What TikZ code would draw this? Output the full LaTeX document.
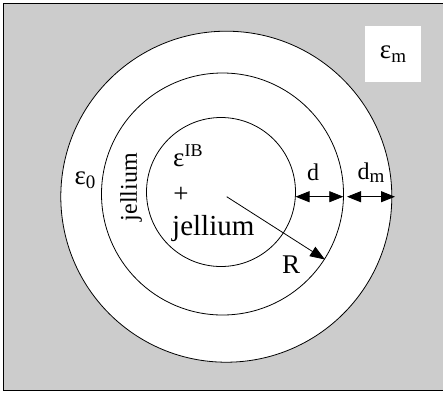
\documentclass[tikz,border=0pt]{standalone}
\usepackage{fontspec}
\setmainfont{Liberation Serif}
\usepackage{xcolor}
\usetikzlibrary{arrows.meta}
\definecolor{bggray}{HTML}{CCCCCC}
\newcommand{\lowr}[1]{\raisebox{-0.3ex}{\fontsize{19}{19}\selectfont #1}}
\newcommand{\highr}[1]{\raisebox{0.75ex}{\fontsize{18}{18}\selectfont #1}}
\tikzset{
  lbl/.style={inner sep=0pt,font=\fontsize{27}{30}\selectfont},
  slbl/.style={inner sep=0pt,font=\fontsize{24}{26}\selectfont},
  ring/.style={draw,line width=0.8pt},
  arr/.style={-{Triangle[length=15pt,width=11pt]},line width=0.8pt},
  darr/.style={{Triangle[length=14pt,width=11pt]}-{Triangle[length=14pt,width=11pt]},line width=0.8pt},
}

\begin{document}
\begin{tikzpicture}[x=1pt,y=-1pt]
\useasboundingbox (0,0) rectangle (443,394);
% surrounding medium
\draw[fill=bggray,line width=1pt] (3.5,3) rectangle (445,390.5);
% shells
\draw[ring,fill=white] (226.3,196.7) circle (165.5);
\draw[ring] (222.5,194) circle (121);
\draw[ring] (221,192) circle (74.5);
% arrow end points
\coordinate (ctr) at (226.7,196.7);
\coordinate (rEnd) at (325,259.5);
\coordinate (inR) at (295.5,196.7);
\coordinate (midR) at (343.3,196.7);
\coordinate (midR2) at (347,196.7);
\coordinate (outR) at (395,196.7);
% labels
\node[lbl,fill=white,minimum width=56pt,minimum height=56pt] (epsm) at (393,54) {ε\lowr{m}};
\node[lbl] (eps0) at (85,180) {ε\lowr{0}};
\node[slbl,rotate=90] (jelOut) at (131,187) {jellium};
\node[lbl,anchor=base west] (epsIB) at (173,166) {ε\highr{IB}};
\node[lbl] (plus) at (181,195) {+};
\node[lbl,font=\fontsize{29}{30}\selectfont,anchor=base west] (jelIn) at (172,235) {jellium};
\node[lbl] (rlbl) at (291,265) {R};
\node[slbl] (dlbl) at (313,172) {d};
\node[slbl] (dmlbl) at (371,173) {d\lowr{m}};
% arrows
\draw[arr] (ctr) -- (rEnd);
\draw[darr] (inR) -- (midR);
\draw[darr] (midR2) -- (outR);
\end{tikzpicture}
\end{document}
